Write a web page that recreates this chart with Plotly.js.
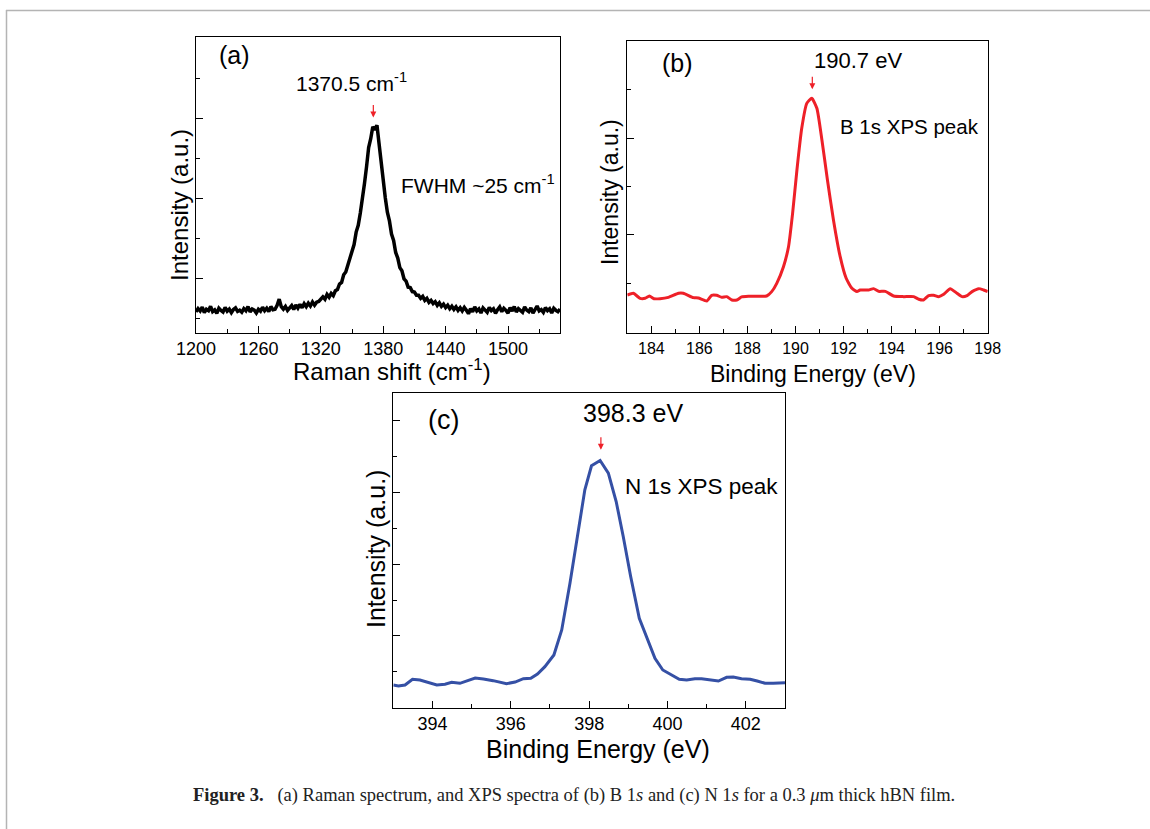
<!DOCTYPE html>
<html>
<head>
<meta charset="utf-8">
<script src="https://cdn.plot.ly/plotly-3.0.1.min.js"></script>
<style>
html,body{margin:0;padding:0;background:#fff;}
#chart{width:1150px;height:829px;}
</style>
</head>
<body>
<div id="chart"></div>
<script>
// ---------- DATA ----------
// (a) Raman spectrum
const ramanShift = [1200,1202,1204,1206,1208,1210,1212,1214,1216,1218,1220,1222,1224,1226,1228,1230,1232,1234,1236,1238,1240,1242,1244,1246,1248,1250,1252,1254,1256,1258,1260,1262,1264,1266,1268,1270,1272,1274,1276,1278,1280,1282,1284,1286,1288,1290,1292,1294,1296,1298,1300,1302,1304,1306,1308,1310,1312,1314,1316,1318,1320,1322,1324,1326,1328,1330,1332,1334,1336,1338,1340,1342,1344,1346,1348,1350,1352,1354,1356,1358,1360,1362,1364,1366,1368,1370,1372,1374,1376,1378,1380,1382,1384,1386,1388,1390,1392,1394,1396,1398,1400,1402,1404,1406,1408,1410,1412,1414,1416,1418,1420,1422,1424,1426,1428,1430,1432,1434,1436,1438,1440,1442,1444,1446,1448,1450,1452,1454,1456,1458,1460,1462,1464,1466,1468,1470,1472,1474,1476,1478,1480,1482,1484,1486,1488,1490,1492,1494,1496,1498,1500,1502,1504,1506,1508,1510,1512,1514,1516,1518,1520,1522,1524,1526,1528,1530,1532,1534,1536,1538,1540,1542,1544,1546,1548,1550];
const ramanIntensity = [580,622,593,639,571,613,596,651,583,605,562,627,600,580,637,590,615,571,610,630,586,601,576,622,595,647,580,617,603,566,613,590,639,596,627,583,647,608,613,664,
740,645,615,648,600,635,660,612,668,628,676,632,684,645,690,655,705,665,702,712,745,770,740,800,765,812,785,
845,860,930,950,1045,1080,1175,1235,1350,1425,1580,1665,1820,1975,2190,2400,2640,2750,2900,2860,2920,2690,2440,2160,2010,1830,1720,1555,1475,1325,1255,1135,1095,995,965,890,885,835,830,790,
790,750,775,725,750,700,725,685,708,662,695,650,678,635,665,620,652,612,645,600,633,592,636,
600,558,620,583,643,592,617,566,631,600,575,637,597,620,563,609,643,583,626,600,566,634,592,648,580,620,600,575,643,603,583,631,566,617,654,592,609,575,634,597,620,566,626,600,583,617];

// (b) B 1s XPS
const b1sEnergy = [183.0,183.25,183.53,183.74,183.92,184.11,184.36,184.71,185.13,185.33,185.75,185.96,186.31,186.51,186.72,186.93,187.14,187.35,187.56,187.76,188.04,188.8,189.01,189.22,189.5,189.71,189.88,190.06,190.26,190.47,190.68,190.89,191.1,191.33,191.58,191.86,192.11,192.35,192.56,192.69,193.04,193.25,193.46,193.74,194.08,194.5,194.92,195.13,195.33,195.54,195.75,195.96,196.17,196.44,196.72,196.93,197.14,197.35,197.63,197.83,198.0];
const b1sIntensity = [379,397,345,345,369,341,341,355,397,397,352,348,317,376,376,355,362,328,328,359,366,369,414,500,672,879,1224,1672,2103,2361,2413,2310,1982,1569,1155,776,552,448,414,431,431,445,417,417,369,362,362,335,328,373,376,362,386,445,397,362,373,414,445,431,414];

// (c) N 1s XPS
const n1sEnergy = [393.0,393.13,393.3,393.49,393.68,393.85,394.11,394.32,394.49,394.7,394.87,395.09,395.3,395.55,395.89,396.11,396.32,396.51,396.68,396.87,397.1,397.3,397.51,397.72,397.89,398.06,398.28,398.49,398.69,398.87,399.06,399.28,399.49,399.68,399.88,400.11,400.3,400.49,400.7,400.87,401.09,401.3,401.51,401.68,401.89,402.11,402.29,402.49,402.7,403.0];
const n1sIntensity = [316,302,316,395,386,358,316,326,353,340,377,414,400,377,335,358,405,409,470,572,735,1084,1735,2479,3037,3372,3446,3270,2874,2386,1828,1246,944,688,526,456,395,386,405,405,386,372,423,428,405,395,372,340,340,349];

// peak labels
const ramanPeak = 1370.5, ramanPeakArrowY = 3016;
const b1sPeak = 190.7, b1sPeakArrowY = 2506;
const n1sPeak = 398.3, n1sPeakArrowY = 3596;

// ---------- LAYOUT HELPERS ----------
const W = 1150, H = 829;
const px = x => x / W;
const py = y => 1 - y / H;
const SANS = 'Liberation Sans, Arial, sans-serif';
const SERIF = 'Liberation Serif, Times New Roman, serif';

function xax(domain, range, dtick, minorDtick, fs, anchor) {
  return {
    domain: domain, range: range, anchor: anchor, dtick: dtick, tick0: range[0] - (range[0] % dtick),
    ticks: 'inside', ticklen: 7, tickwidth: 1, tickcolor: '#000',
    minor: {ticks: 'inside', dtick: minorDtick, ticklen: 4, tickwidth: 1, tickcolor: '#000'},
    showline: true, mirror: true, linecolor: '#000', linewidth: 1,
    showgrid: false, zeroline: false, fixedrange: true,
    tickfont: {family: SANS, size: fs, color: '#000'},
    automargin: false
  };
}
function yax(domain, range, majors, minors, anchor) {
  return {
    domain: domain, range: range, anchor: anchor,
    tickmode: 'array', tickvals: majors, showticklabels: false,
    ticks: 'inside', ticklen: 7, tickwidth: 1, tickcolor: '#000',
    minor: {ticks: 'inside', tickmode: 'array', tickvals: minors, ticklen: 4, tickwidth: 1, tickcolor: '#000'},
    showline: true, mirror: true, linecolor: '#000', linewidth: 1,
    showgrid: false, zeroline: false, fixedrange: true,
    automargin: false
  };
}

const traces = [
  {x: ramanShift, y: ramanIntensity, xaxis: 'x', yaxis: 'y', type: 'scatter', mode: 'lines',
   line: {color: '#000000', width: 3.5}, hoverinfo: 'skip'},
  {x: b1sEnergy, y: b1sIntensity, xaxis: 'x2', yaxis: 'y2', type: 'scatter', mode: 'lines',
   line: {color: '#ee2028', width: 3, shape: 'spline', smoothing: 0.5}, hoverinfo: 'skip'},
  {x: n1sEnergy, y: n1sIntensity, xaxis: 'x3', yaxis: 'y3', type: 'scatter', mode: 'lines',
   line: {color: '#3550a5', width: 3}, hoverinfo: 'skip'}
];

function label(text, x, y, size, angle) {
  return {text: text, xref: 'paper', yref: 'paper', x: px(x), y: py(y),
          xanchor: 'center', yanchor: 'middle', showarrow: false, textangle: angle || 0,
          font: {family: SANS, size: size, color: '#000'}};
}
function arrow(xref, yref, x, y) {
  return {text: '', xref: xref, yref: yref, x: x, y: y, ax: 0, ay: -14,
          showarrow: true, arrowhead: 2, arrowsize: 1, arrowwidth: 1.2, arrowcolor: '#ee2028', standoff: 0};
}

const layout = {
  width: W, height: H,
  margin: {l: 0, r: 0, t: 0, b: 0, pad: 0},
  paper_bgcolor: '#fff', plot_bgcolor: '#fff',
  showlegend: false,
  font: {family: SANS, color: '#000'},
  xaxis:  xax([px(196), px(560)], [1200, 1550], 60, 30, 18, 'y'),
  yaxis:  yax([py(332.7), py(37.3)], [320, 4020], [1000, 2000, 3000], [500, 1500, 2500, 3500], 'x'),
  xaxis2: xax([px(627.3), px(987.7)], [183, 198], 2, 1, 16, 'y2'),
  yaxis2: yax([py(333.3), py(40.7)], [-17, 3009], [1000, 2000], [500, 1500, 2500], 'x2'),
  xaxis3: xax([px(393.3), px(785)], [393, 403], 2, 1, 18, 'y3'),
  yaxis3: yax([py(707.7), py(392.7)], [0, 4391], [1000, 2000, 3000, 4000], [500, 1500, 2500, 3500], 'x3'),
  annotations: [
    // axis titles
    label('Raman shift (cm<sup>-1</sup>)', 391.5, 370, 24),
    label('Intensity (a.u.)', 179, 205, 24, -90),
    label('Binding Energy (eV)', 813, 374, 23),
    label('Intensity (a.u.)', 610, 192, 23, -90),
    label('Binding Energy (eV)', 598, 749, 25),
    label('Intensity (a.u.)', 376, 549, 25, -90),
    // panel texts
    label('(a)', 234, 55, 25),
    label('1370.5 cm<sup>-1</sup>', 351, 82, 21),
    label('FWHM ~25 cm<sup>-1</sup>', 478, 184, 21),
    arrow('x', 'y', ramanPeak, ramanPeakArrowY),
    label('(b)', 678, 63, 25),
    label('190.7 eV', 858, 60, 22),
    label('B 1s XPS peak', 909, 126, 20.5),
    arrow('x2', 'y2', b1sPeak, b1sPeakArrowY),
    label('(c)', 443, 420, 27),
    label('398.3 eV', 633, 413, 25),
    label('N 1s XPS peak', 701, 486, 22.5),
    arrow('x3', 'y3', n1sPeak, n1sPeakArrowY),
    {text: '<b>Figure 3.</b>\u00a0\u00a0 (a) Raman spectrum, and XPS spectra of (b) B 1<i>s</i> and (c) N 1<i>s</i> for a 0.3 <i>\u03bc</i>m thick hBN film.',
     xref: 'paper', yref: 'paper', x: px(191), y: py(795), xanchor: 'left', yanchor: 'middle',
     showarrow: false, font: {family: SERIF, size: 18.5, color: '#222'}}
  ],
  shapes: [
    {type: 'line', xref: 'paper', yref: 'paper', x0: px(6), x1: 1, y0: py(10.5), y1: py(10.5),
     line: {color: '#b4b4b4', width: 1.5}},
    {type: 'line', xref: 'paper', yref: 'paper', x0: px(6.5), x1: px(6.5), y0: py(10), y1: 0,
     line: {color: '#b4b4b4', width: 1.5}}
  ]
};

Plotly.newPlot('chart', traces, layout, {displayModeBar: false, staticPlot: true});
</script>
</body>
</html>
